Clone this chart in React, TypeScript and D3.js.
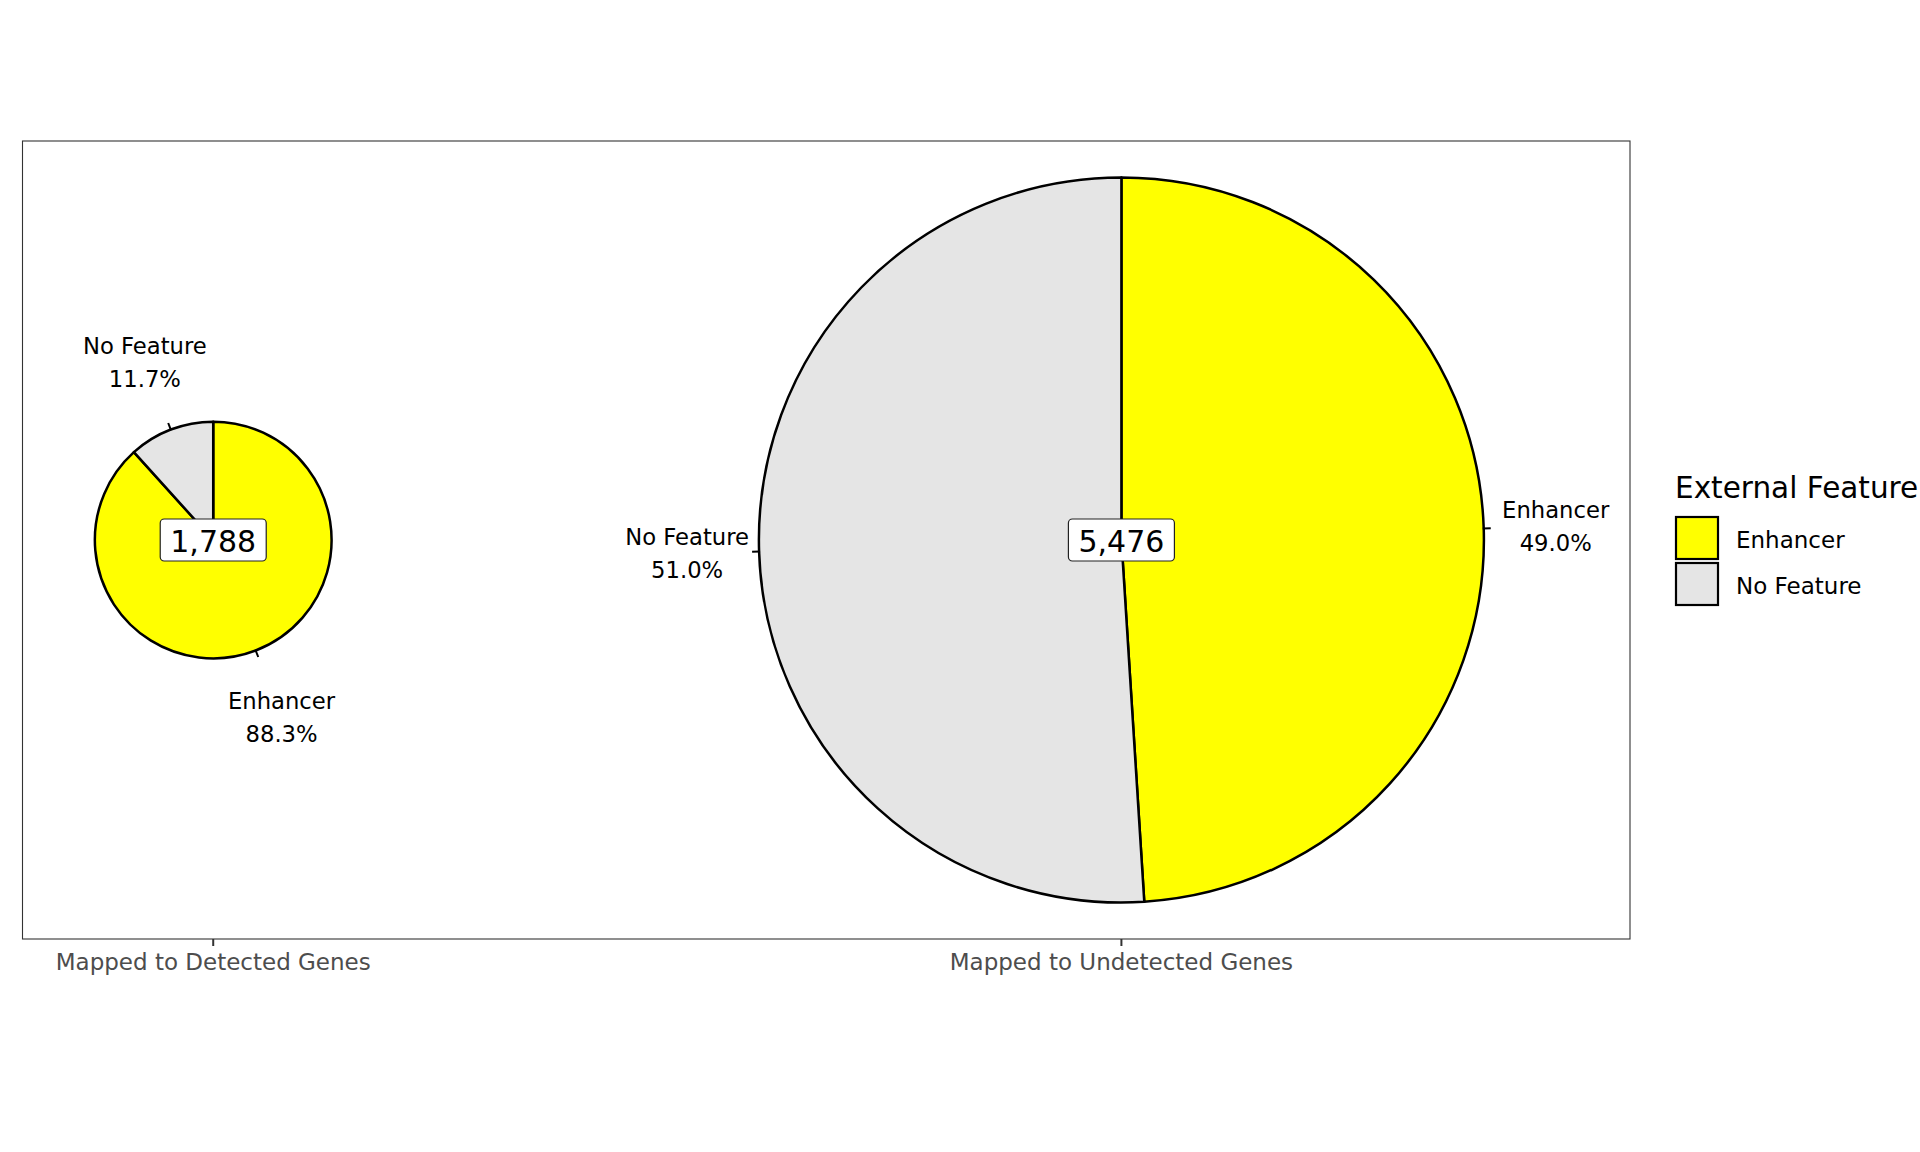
import React from "react";
import * as d3 from "d3";

// data
const groups = ["Mapped to Detected Genes", "Mapped to Undetected Genes"];
const groupPos = [1, 2];
const features = ["Enhancer", "No Feature"];
const enhancerCounts = [1579, 2683];
const noFeatureCounts = [209, 2793];
const enhancerPct = ["88.3%", "49.0%"];
const noFeaturePct = ["11.7%", "51.0%"];

const COLORS: Record<string, string> = { Enhancer: "#FFFF00", "No Feature": "#E5E5E5" };

const WIDTH = 1920;
const HEIGHT = 1152;
const PANEL = { left: 22.5, top: 141, right: 1630, bottom: 939 };
const FONT = "DejaVu Sans, Verdana, sans-serif";
const MAX_R = 362.5;
const LABEL_GAP = 72;

type Slice = { feature: string; value: number; pct: string };

export default function App() {
  const xScale = d3.scaleLinear().domain([0.79, 2.56]).range([PANEL.left, PANEL.right]);
  const cy = (PANEL.top + PANEL.bottom) / 2;

  const totals = groups.map((_, i) => enhancerCounts[i] + noFeatureCounts[i]);
  const rScale = d3.scaleLinear().domain([0, d3.max(totals) as number]).range([0, MAX_R]);

  const pie = d3
    .pie<Slice>()
    .sort(null)
    .value((d) => d.value);

  const pies = groups.map((g, i) => {
    const cx = xScale(groupPos[i]);
    const r = rScale(totals[i]);
    const slices: Slice[] = [
      { feature: features[0], value: enhancerCounts[i], pct: enhancerPct[i] },
      { feature: features[1], value: noFeatureCounts[i], pct: noFeaturePct[i] },
    ];
    const arcs = pie(slices);
    const arc = d3.arc<d3.PieArcDatum<Slice>>().innerRadius(0).outerRadius(r);
    const totalText = d3.format(",")(totals[i]);
    const boxW = 106;
    const boxH = 42;

    return (
      <g key={g} transform={`translate(${cx},${cy})`}>
        {arcs.map((a) => (
          <path
            key={a.data.feature}
            d={arc(a) as string}
            fill={COLORS[a.data.feature]}
            stroke="black"
            strokeWidth={2.5}
            strokeLinejoin="round"
          />
        ))}
        {arcs.map((a) => {
          const mid = (a.startAngle + a.endAngle) / 2;
          const sx = Math.sin(mid);
          const sy = -Math.cos(mid);
          const lr = r + LABEL_GAP;
          return (
            <g key={"lab" + a.data.feature}>
              <line
                x1={sx * (r - 1)}
                y1={sy * (r - 1)}
                x2={sx * (r + 7)}
                y2={sy * (r + 7)}
                stroke="black"
                strokeWidth={2}
              />
              <text
                x={sx * lr}
                y={sy * lr - 16.5}
                textAnchor="middle"
                dominantBaseline="central"
                fontSize={22.7}
                fontFamily={FONT}
                fill="black"
              >
                {a.data.feature}
              </text>
              <text
                x={sx * lr}
                y={sy * lr + 16.5}
                textAnchor="middle"
                dominantBaseline="central"
                fontSize={22.7}
                fontFamily={FONT}
                fill="black"
              >
                {a.data.pct}
              </text>
            </g>
          );
        })}
        <rect
          x={-boxW / 2}
          y={-boxH / 2}
          width={boxW}
          height={boxH}
          rx={4}
          fill="white"
          stroke="#222"
          strokeWidth={1.2}
        />
        <text
          x={0}
          y={1}
          textAnchor="middle"
          dominantBaseline="central"
          fontSize={30}
          fontFamily={FONT}
          fill="black"
        >
          {totalText}
        </text>
      </g>
    );
  });

  const xAxis = groups.map((g, i) => {
    const x = xScale(groupPos[i]);
    return (
      <g key={"ax" + g}>
        <line x1={x} x2={x} y1={PANEL.bottom} y2={PANEL.bottom + 7} stroke="#333" strokeWidth={2} />
        <text x={x} y={970} textAnchor="middle" fontSize={23} fontFamily={FONT} fill="#4D4D4D">
          {g}
        </text>
      </g>
    );
  });

  const legendX = 1675;
  const legendTop = 517;
  const keySize = 44;

  return (
    <div style={{ position: "absolute", left: 0, top: 0 }}>
      <svg width={WIDTH} height={HEIGHT} style={{ display: "block", background: "white" }}>
        {pies}
        <rect
          x={PANEL.left}
          y={PANEL.top}
          width={PANEL.right - PANEL.left}
          height={PANEL.bottom - PANEL.top}
          fill="none"
          stroke="#333"
          strokeWidth={1.1}
        />
        {xAxis}
        <text x={legendX} y={498} fontSize={29.5} fontFamily={FONT} fill="black">
          External Feature
        </text>
        {features.map((f, i) => (
          <g key={"leg" + f}>
            <rect
              x={legendX + 1}
              y={legendTop + i * (keySize + 2)}
              width={keySize - 2}
              height={keySize - 2}
              fill={COLORS[f]}
              stroke="black"
              strokeWidth={2.2}
            />
            <text
              x={1736}
              y={legendTop + i * (keySize + 2) + keySize / 2 + 1}
              dominantBaseline="central"
              fontSize={23}
              fontFamily={FONT}
              fill="black"
            >
              {f}
            </text>
          </g>
        ))}
      </svg>
    </div>
  );
}
